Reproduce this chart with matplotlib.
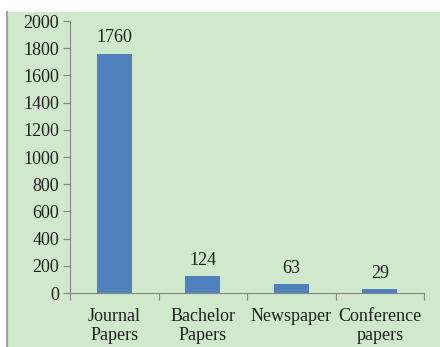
import matplotlib
matplotlib.use('Agg')
import matplotlib.pyplot as plt
from matplotlib.patches import Rectangle

plt.rcParams['font.family'] = ['Liberation Serif', 'DejaVu Serif']

categories = ['Journal\nPapers', 'Bachelor\nPapers', 'Newspaper', 'Conference\npapers']
counts = [1760, 124, 63, 29]
yticks = [0, 200, 400, 600, 800, 1000, 1200, 1400, 1600, 1800, 2000]

bg = '#D0E8CB'
bar_color = '#4F81BD'
axis_color = '#868686'
fs = 13

fig = plt.figure(figsize=(4.4, 3.47), dpi=100)
fig.patch.set_facecolor('white')
# green chart area with thin gray left border
fig.patches.append(Rectangle((7/440, 0), 1, 1 - 12/347, transform=fig.transFigure,
                             facecolor=bg, edgecolor='none', zorder=-10))
fig.lines.append(plt.Line2D([7/440, 7/440], [0, 1 - 12/347], transform=fig.transFigure,
                            color='#A0A0A0', lw=1.5, zorder=-9))

ax = fig.add_axes([70/440, 1 - 293/347, 354/440, 272/347])
ax.set_facecolor('none')
x = range(len(categories))
bars = ax.bar(x, counts, width=0.4, color=bar_color, zorder=2)
for xi, v in zip(x, counts):
    ax.text(xi, v + 55, str(v), ha='center', va='bottom', fontsize=fs, color='#202020')

ax.set_xlim(-0.5, len(categories) - 0.5)
ax.set_ylim(0, 2000)
ax.set_yticks(yticks)
ax.set_yticklabels([str(t) for t in yticks], fontsize=fs, color='#202020')
ax.set_xticks([i - 0.5 for i in range(len(categories) + 1)])
ax.set_xticklabels([])
ax.set_xticks(list(x), minor=True)
ax.set_xticklabels(categories, minor=True, fontsize=fs, color='#202020', linespacing=1.1)
ax.tick_params(axis='x', which='minor', length=0, pad=11)
ax.tick_params(axis='x', which='major', length=5, color=axis_color)
ax.tick_params(axis='y', length=5, color=axis_color, pad=3)
for s in ['top', 'right']:
    ax.spines[s].set_visible(False)
for s in ['left', 'bottom']:
    ax.spines[s].set_color(axis_color)

fig.savefig('out.png', dpi=100)
